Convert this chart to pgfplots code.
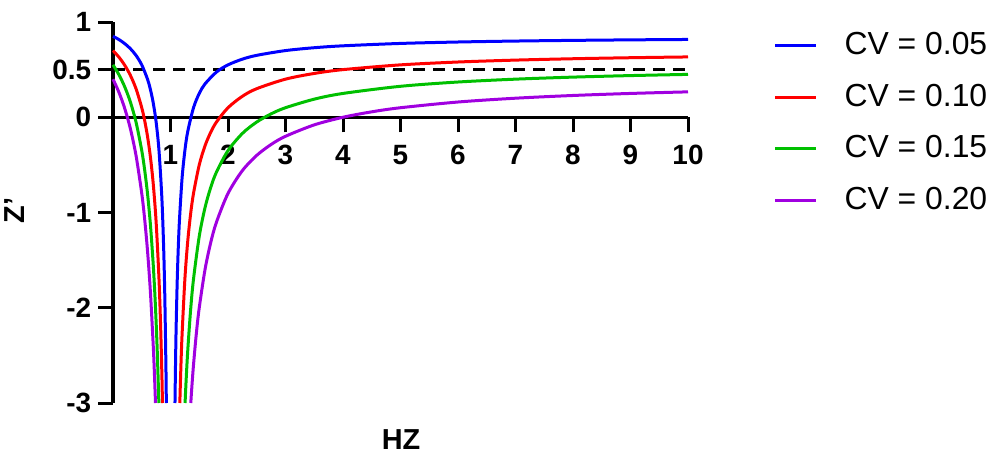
\documentclass[border=0pt]{standalone}
\usepackage{pgfplots}
\pgfplotsset{compat=1.18}
\usepackage{fontspec}
\setmainfont{Liberation Sans}
\definecolor{cvblue}{RGB}{0,0,255}
\definecolor{cvred}{RGB}{255,0,0}
\definecolor{cvgreen}{RGB}{0,192,0}
\definecolor{cvpurple}{RGB}{160,0,224}
\begin{document}
\begin{tikzpicture}
\path[use as bounding box] (0,0) rectangle (987bp,-457bp);
\begin{axis}[
  at={(113bp,-403bp)}, anchor=south west,
  scale only axis, width=575bp, height=381bp,
  xmin=0, xmax=10, ymin=-3, ymax=1,
  axis y line*=left, axis x line*=middle,
  axis line style={line width=3bp},
  xtick={1,2,3,4,5,6,7,8,9,10}, ytick={-3,-2,-1,0,0.5,1},
  tick align=outside, major tick length=15bp,
  every tick/.style={line width=3bp, black},
  ticklabel style={font=\bfseries\fontsize{28}{28}\selectfont},
  xticklabel style={yshift=-8bp},
  yticklabel style={xshift=-2bp},
  /pgf/number format/assume math mode=true,
  xlabel={HZ}, ylabel={Z'},
  label style={font=\bfseries\fontsize{29}{29}\selectfont},
  xlabel style={at={(axis description cs:0.501,-0.097)}, anchor=center},
  ylabel style={at={(axis description cs:-0.171,0.505)}, anchor=center},
  clip=false,
  legend style={at={(axis description cs:1.141,0.983)}, anchor=north west,
    draw=none, fill=none, font=\fontsize{32}{32}\selectfont,
    nodes={inner sep=0pt, text height=23bp, text depth=0bp},
    row sep=28.4bp, column sep=0bp},
  legend cell align=left,
  legend image code/.code={\draw[line width=3bp] (0bp,-2.5bp) -- (41bp,-2.5bp);},
  /tikz/every odd column/.append style={column sep=27bp},
  line width=3bp,
]
\addplot[black, dash pattern=on 12bp off 8bp, forget plot] coordinates {(0,0.5) (10,0.5)};

% CV = 0.05
\addplot[cvblue, smooth, tension=0.5] coordinates {
(0,0.85) (0.1,0.8167) (0.2,0.775) (0.3,0.7214) (0.4,0.65) (0.5,0.55) (0.6,0.4)
(0.65,0.2929) (0.7,0.15) (0.75,-0.05) (0.8,-0.35) (0.85,-0.85) (0.88,-1.35)
(0.9,-1.85) (0.92,-2.6) (0.9277,-3)};
\addlegendentry{CV = 0.05}
\addplot[cvblue, smooth, tension=0.5, forget plot] coordinates {
(1.0779,-3) (1.09,-2.4833) (1.1,-2.15) (1.12,-1.65) (1.15,-1.15) (1.2,-0.65)
(1.25,-0.35) (1.3,-0.15) (1.4,0.1) (1.5,0.25) (1.6,0.35) (1.8,0.475) (2,0.55)
(2.25,0.61) (2.5,0.65) (3,0.7) (3.5,0.73) (4,0.75) (5,0.775) (6,0.79) (7,0.8)
(8,0.8071) (9,0.8125) (10,0.8167)};

% CV = 0.10
\addplot[cvred, smooth, tension=0.5] coordinates {
(0,0.7) (0.1,0.6333) (0.2,0.55) (0.3,0.4429) (0.4,0.3) (0.5,0.1) (0.55,-0.0333)
(0.6,-0.2) (0.65,-0.4143) (0.7,-0.7) (0.75,-1.1) (0.8,-1.7) (0.83,-2.2294)
(0.85,-2.7) (0.8605,-3)};
\addlegendentry{CV = 0.10}
\addplot[cvred, smooth, tension=0.5, forget plot] coordinates {
(1.1622,-3) (1.18,-2.6333) (1.2,-2.3) (1.25,-1.7) (1.3,-1.3) (1.35,-1.0143)
(1.4,-0.8) (1.5,-0.5) (1.6,-0.3) (1.7,-0.1571) (1.8,-0.05) (2,0.1) (2.25,0.22)
(2.5,0.3) (3,0.4) (3.5,0.46) (4,0.5) (5,0.55) (6,0.58) (7,0.6) (8,0.6143)
(9,0.625) (10,0.6333)};

% CV = 0.15
\addplot[cvgreen, smooth, tension=0.5] coordinates {
(0,0.55) (0.1,0.45) (0.2,0.325) (0.3,0.1643) (0.4,-0.05) (0.5,-0.35) (0.55,-0.55)
(0.6,-0.8) (0.65,-1.1214) (0.7,-1.55) (0.73,-1.8833) (0.75,-2.15) (0.77,-2.463)
(0.7978,-3)};
\addlegendentry{CV = 0.15}
\addplot[cvgreen, smooth, tension=0.5, forget plot] coordinates {
(1.2535,-3) (1.27,-2.7833) (1.3,-2.45) (1.35,-2.0214) (1.4,-1.7) (1.5,-1.25)
(1.6,-0.95) (1.7,-0.7357) (1.8,-0.575) (2,-0.35) (2.25,-0.17) (2.5,-0.05)
(2.75,0.0357) (3,0.1) (3.5,0.19) (4,0.25) (5,0.325) (6,0.37) (7,0.4)
(8,0.4214) (9,0.4375) (10,0.45)};

% CV = 0.20
\addplot[cvpurple, smooth, tension=0.5] coordinates {
(0,0.4) (0.1,0.2667) (0.2,0.1) (0.3,-0.1143) (0.4,-0.4) (0.5,-0.8) (0.55,-1.0667)
(0.6,-1.4) (0.65,-1.8286) (0.7,-2.4) (0.72,-2.6857) (0.7391,-3)};
\addlegendentry{CV = 0.20}
\addplot[cvpurple, smooth, tension=0.5, forget plot] coordinates {
(1.3529,-3) (1.37,-2.8432) (1.4,-2.6) (1.45,-2.2667) (1.5,-2) (1.6,-1.6)
(1.7,-1.3143) (1.8,-1.1) (2,-0.8) (2.25,-0.56) (2.5,-0.4) (2.75,-0.2857)
(3,-0.2) (3.5,-0.08) (4,0) (4.5,0.0571) (5,0.1) (6,0.16) (7,0.2) (8,0.2286)
(9,0.25) (10,0.2667)};
\end{axis}
\end{tikzpicture}
\end{document}
